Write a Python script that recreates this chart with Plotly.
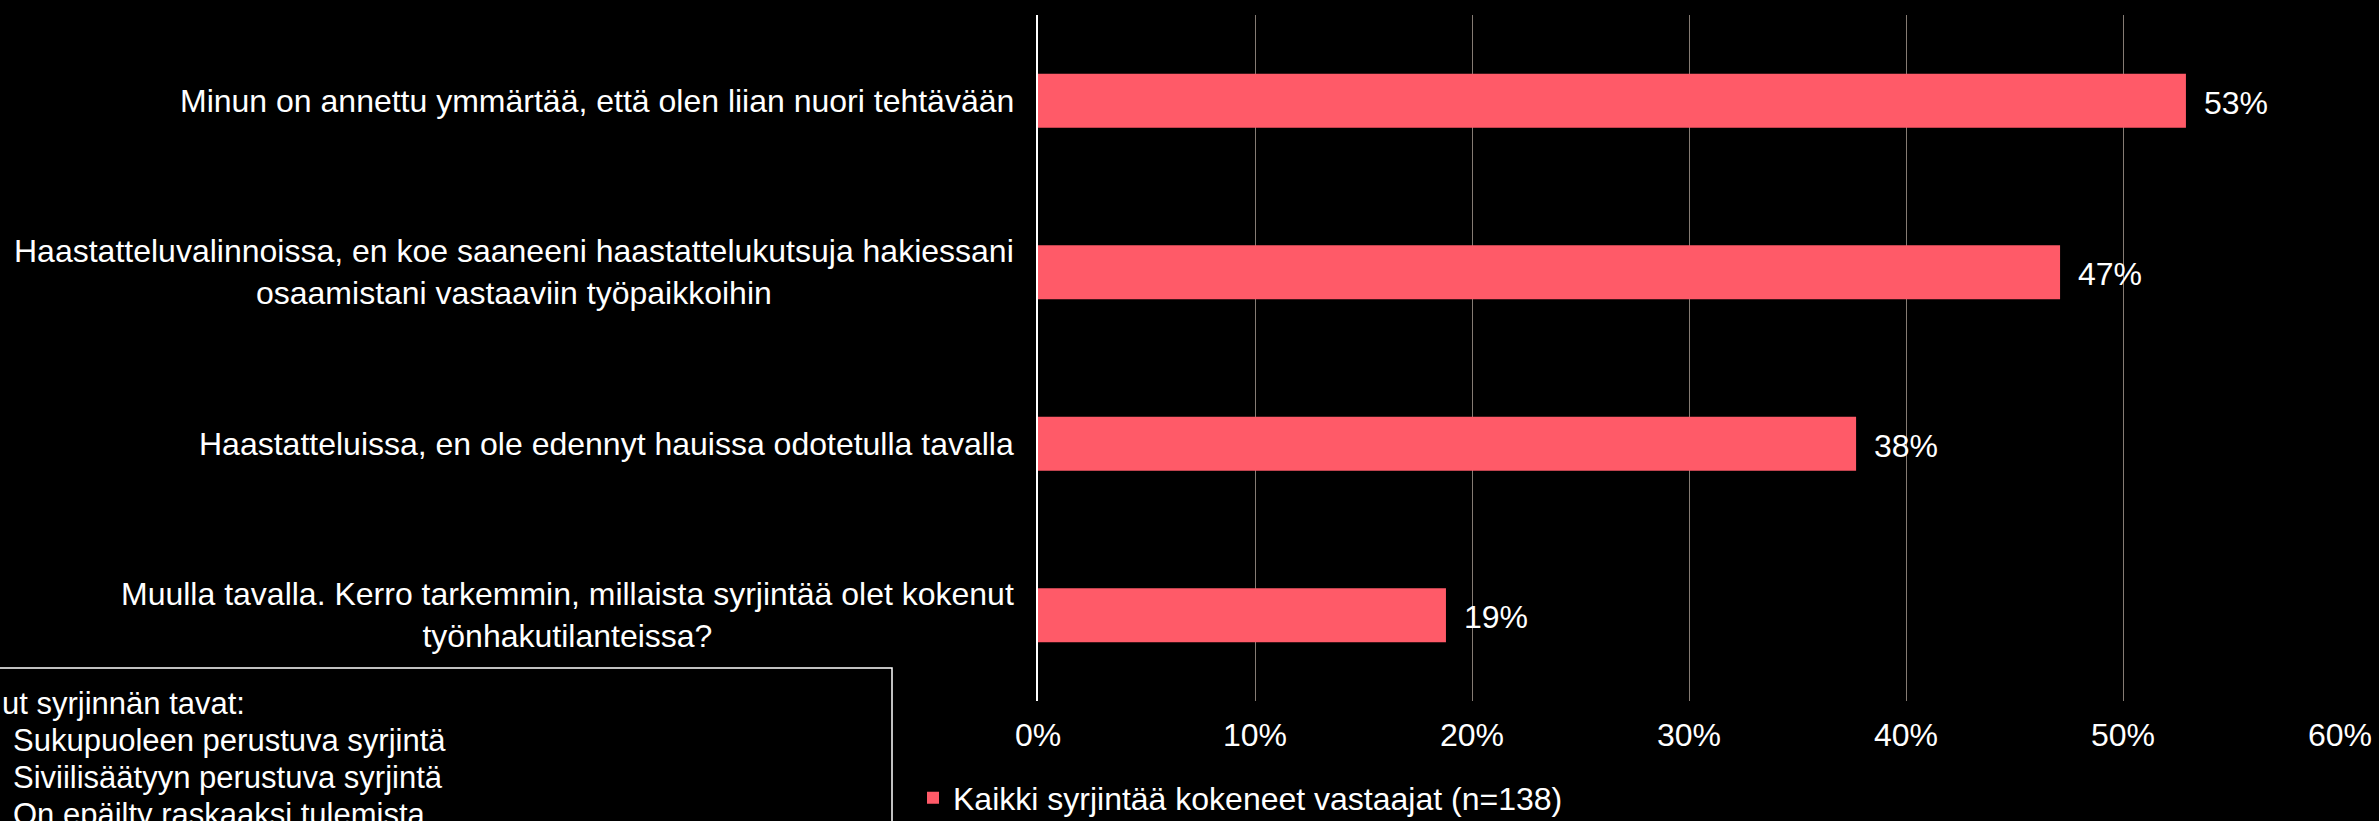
import plotly.graph_objects as go

# ---- data ----
categories = [
    "Minun on annettu ymmärtää, että olen liian nuori tehtävään",
    "Haastatteluvalinnoissa, en koe saaneeni haastattelukutsuja hakiessani<br>osaamistani vastaaviin työpaikkoihin",
    "Haastatteluissa, en ole edennyt hauissa odotetulla tavalla",
    "Muulla tavalla. Kerro tarkemmin, millaista syrjintää olet kokenut<br>työnhakutilanteissa?",
]
values = [0.529, 0.471, 0.377, 0.188]
series_name = "Kaikki syrjintää kokeneet vastaajat (n=138)"
x_ticks = [0, 0.1, 0.2, 0.3, 0.4, 0.5, 0.6]
x_tick_labels = ["0%", "10%", "20%", "30%", "40%", "50%", "60%"]
box_lines = [
    "ut syrjinnän tavat:",
    "Sukupuoleen perustuva syrjintä",
    "Siviilisäätyyn perustuva syrjintä",
    "On epäilty raskaaksi tulemista",
]

# ---- layout geometry (pixels) ----
W, H = 2379, 821
L, R, T, B = 1038, 39, 15, 120
PW = W - L - R
PH = H - T - B
FONT = "Liberation Sans, Arial, sans-serif"
FS = 32
BAR_COLOR = "#FF5A68"


def px_x(px):
    return (px - L) / PW


def px_y(py):
    return (H - B - py) / PH


fig = go.Figure()
fig.add_trace(go.Bar(
    x=values,
    y=categories,
    orientation="h",
    name=series_name,
    marker=dict(color=BAR_COLOR, line=dict(width=0)),
    width=0.315,
    hoverinfo="x",
))

annotations = []
# category labels: lines centred within the block, block right-anchored
for c in categories:
    annotations.append(dict(
        x=0, xref="paper", y=c, yref="y",
        text=c, showarrow=False, xanchor="right", yanchor="middle",
        align="center", xshift=-22,
        font=dict(family=FONT, size=FS, color="white"),
    ))
# value labels
for c, v in zip(categories, values):
    annotations.append(dict(
        x=v, xref="x", y=c, yref="y",
        text=f"{v:.0%}", showarrow=False, xanchor="left", yanchor="middle",
        xshift=16, yshift=-2,
        font=dict(family=FONT, size=FS, color="white"),
    ))
# text inside the left box
box_x = [0, 11, 11, 11]
box_y = [703, 740, 777, 814]
for t, bx, by in zip(box_lines, box_x, box_y):
    annotations.append(dict(
        x=px_x(bx), xref="paper", y=px_y(by), yref="paper",
        text=t, showarrow=False, xanchor="left", yanchor="middle",
        align="left",
        font=dict(family=FONT, size=FS - 1, color="white"),
    ))

shapes = [dict(
    type="rect", xref="paper", yref="paper",
    x0=px_x(-20), x1=px_x(892), y0=px_y(668), y1=px_y(840),
    line=dict(color="white", width=1.5), fillcolor="rgba(0,0,0,0)",
    layer="above",
)]

fig.update_layout(
    width=W, height=H,
    margin=dict(l=L, r=R, t=T, b=B, pad=0, autoexpand=False),
    paper_bgcolor="black", plot_bgcolor="black",
    font=dict(family=FONT, size=FS, color="white"),
    showlegend=True,
    legend=dict(
        orientation="h", x=px_x(913), xanchor="left",
        y=px_y(798), yanchor="middle",
        font=dict(family=FONT, size=FS, color="white"),
        bgcolor="rgba(0,0,0,0)", itemwidth=30,
    ),
    bargap=0.685,
    annotations=annotations,
    shapes=shapes,
    xaxis=dict(
        range=[0, 0.6], tickvals=x_ticks, ticktext=x_tick_labels,
        showgrid=True, gridcolor="#857b73", gridwidth=1.3,
        zeroline=False, showline=False, ticks="",
        ticklabelstandoff=12,
        tickfont=dict(family=FONT, size=FS, color="white"),
        fixedrange=True,
    ),
    yaxis=dict(
        type="category", autorange="reversed",
        showticklabels=False, showgrid=False, zeroline=False,
        showline=True, linecolor="white", linewidth=2, ticks="",
        fixedrange=True,
    ),
)

fig.write_html(
    "out.html",
    config={"displayModeBar": False},
    post_script="document.body.style.margin='0px';document.body.style.background='black';",
)
